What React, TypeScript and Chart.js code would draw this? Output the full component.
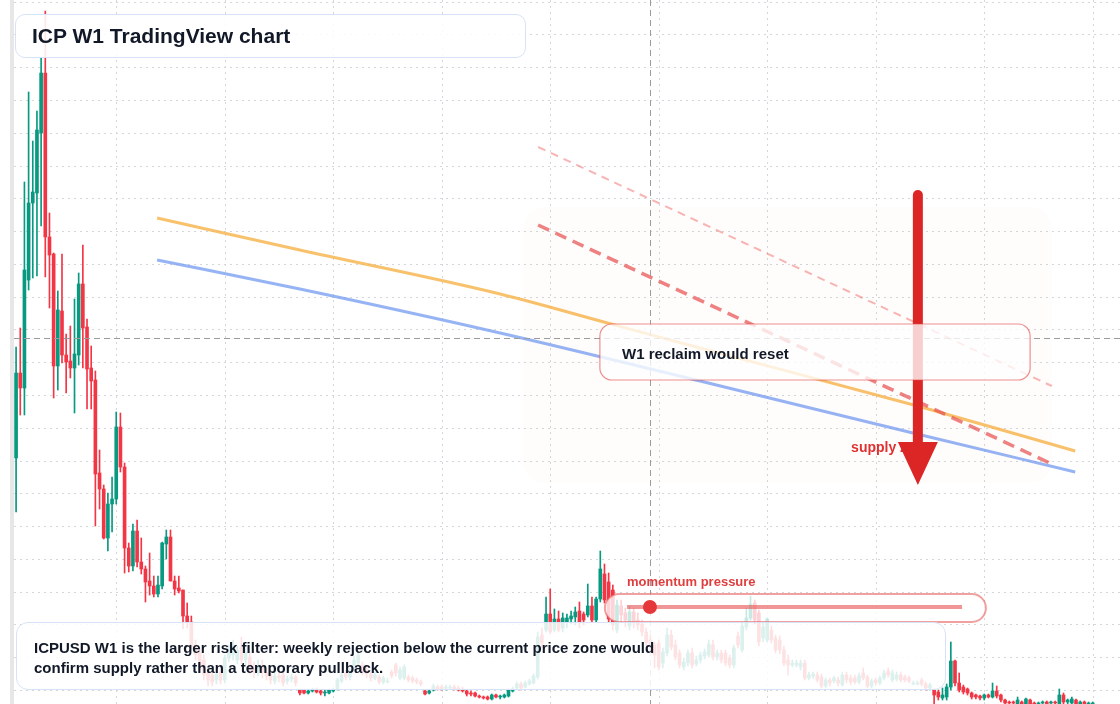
import React, { useEffect, useRef } from "react";
import { Chart, registerables } from "chart.js";

Chart.register(...registerables);

// ---------- DATA (weekly candles) ----------
const opens = [
  26.2, 34.7, 33.2, 44.0, 51.7, 52.7, 58.7, 64.7, 48.3, 46.6,
  35.4, 40.9, 36.5, 35.9, 35.2, 36.5, 43.6, 39.3, 35.2, 34.0,
  24.7, 23.1, 18.2, 21.6, 22.1, 29.3, 25.3, 17.2, 15.4, 18.9,
  15.8, 15.1, 13.9, 13.4, 12.6, 13.4, 17.6, 18.3, 13.9, 13.2,
  13.0, 10.4, 9.8, 7.5, 6.7, 6.0, 4.8, 4.5, 4.0, 4.8,
  4.0, 6.2, 6.5, 6.0, 7.3, 6.0, 6.3, 5.2, 4.8, 5.5,
  4.8, 4.6, 3.9, 4.4, 4.5, 3.9, 4.1, 4.3, 3.0, 3.0,
  2.7, 2.9, 3.0, 2.9, 2.7, 2.7, 2.9, 3.1, 3.9, 4.7,
  4.3, 5.2, 5.7, 5.5, 5.0, 4.6, 4.2, 4.3, 3.8, 3.8,
  4.8, 5.5, 4.2, 4.2, 4.3, 4.2, 4.0, 3.8, 2.9, 2.7,
  3.0, 3.3, 3.3, 3.2, 3.2, 3.3, 3.2, 3.1, 2.9, 2.7,
  2.7, 2.4, 2.3, 2.3, 2.1, 2.5, 2.3, 2.3, 2.4, 2.9,
  3.2, 3.6, 3.3, 3.6, 3.7, 4.3, 8.5, 9.0, 10.6, 9.0,
  10.1, 9.2, 9.8, 10.1, 10.3, 10.9, 10.6, 10.5, 11.4, 10.0,
  12.1, 14.6, 13.8, 13.0, 9.0, 11.4, 10.7, 9.4, 10.8, 10.0,
  9.6, 8.8, 8.0, 7.5, 7.7, 5.7, 6.7, 8.5, 7.5, 6.7,
  5.3, 5.7, 6.7, 5.6, 6.0, 6.4, 6.5, 7.5, 6.3, 6.7,
  6.7, 6.2, 5.5, 8.4, 7.0, 9.3, 10.2, 11.7, 10.7, 8.2,
  8.0, 9.0, 8.2, 8.0, 7.0, 6.0, 5.5, 5.5, 5.3, 5.7,
  4.2, 4.4, 4.5, 4.3, 3.4, 4.0, 3.9, 4.0, 3.5, 4.5,
  4.2, 4.2, 3.8, 4.7, 4.3, 3.4, 4.0, 3.7, 4.2, 4.9,
  4.0, 4.1, 4.5, 4.3, 4.2, 3.6, 3.6, 4.0, 3.6, 3.2,
  3.0, 2.8, 2.2, 2.3, 3.3, 5.9, 3.7, 3.3, 3.1, 2.7,
  2.5, 2.4, 2.2, 2.5, 2.3, 2.9, 2.5, 2.0, 1.8, 1.8,
  1.6, 1.8, 1.6, 2.0, 1.7, 1.6, 1.7, 1.8, 1.7, 1.8,
  1.6, 2.5, 1.8, 1.7, 2.0, 1.6, 1.8, 1.6, 1.6,
];
const closes = [
  34.7, 33.2, 45.0, 51.7, 52.8, 59.0, 64.7, 48.3, 46.5, 35.4,
  41.0, 36.5, 35.8, 35.2, 36.6, 43.6, 39.2, 35.1, 33.9, 24.6,
  23.1, 18.2, 21.6, 22.1, 29.3, 25.3, 17.2, 15.4, 18.9, 15.8,
  15.1, 13.8, 13.4, 12.6, 13.5, 17.7, 18.3, 13.9, 13.1, 12.9,
  10.4, 9.8, 7.3, 6.5, 5.3, 4.5, 4.0, 3.8, 4.6, 4.0,
  6.2, 7.0, 7.5, 7.0, 6.0, 6.8, 5.0, 4.8, 5.5, 4.8,
  4.4, 4.0, 4.4, 4.2, 3.7, 4.1, 4.3, 3.7, 2.7, 2.7,
  2.9, 3.0, 2.8, 2.7, 2.8, 3.0, 3.0, 4.0, 4.5, 4.3,
  4.8, 6.0, 6.5, 4.8, 4.6, 4.2, 4.5, 3.8, 4.2, 3.9,
  4.4, 4.7, 5.0, 5.3, 4.0, 3.9, 3.8, 3.6, 2.6, 2.9,
  3.4, 3.1, 3.1, 3.3, 3.3, 3.1, 3.0, 2.9, 2.6, 2.6,
  2.4, 2.3, 2.2, 2.1, 2.5, 2.3, 2.4, 2.5, 3.0, 3.1,
  3.6, 3.2, 3.7, 3.9, 4.4, 8.3, 7.7, 10.6, 8.8, 10.1,
  9.0, 10.2, 10.2, 10.4, 10.8, 9.8, 10.0, 11.4, 10.0, 12.1,
  15.1, 12.0, 10.1, 9.5, 11.5, 10.5, 10.0, 10.8, 9.8, 9.5,
  8.8, 7.7, 7.5, 6.5, 5.3, 6.8, 8.5, 7.3, 6.3, 5.5,
  5.8, 6.7, 5.5, 6.0, 6.5, 6.8, 7.6, 6.3, 6.7, 6.0,
  5.7, 5.5, 7.2, 7.5, 9.4, 10.2, 11.6, 10.0, 7.8, 9.3,
  10.1, 8.0, 7.0, 7.0, 5.7, 5.5, 5.7, 5.7, 5.7, 4.2,
  4.5, 4.6, 4.0, 3.4, 4.0, 3.7, 4.2, 3.7, 4.5, 4.0,
  3.8, 3.8, 4.4, 4.2, 3.4, 3.9, 3.7, 4.2, 4.7, 4.5,
  4.7, 4.5, 4.0, 4.0, 3.9, 3.7, 3.7, 3.6, 3.2, 3.5,
  2.5, 2.3, 2.5, 3.3, 5.9, 3.7, 3.0, 2.8, 2.7, 2.3,
  2.3, 2.2, 2.5, 2.3, 2.9, 2.4, 2.0, 1.7, 1.7, 1.7,
  2.0, 1.6, 2.1, 1.6, 1.6, 1.7, 1.8, 1.6, 1.8, 1.7,
  2.5, 1.8, 2.0, 2.1, 1.6, 1.8, 1.6, 1.7, 1.7,
];
const highs = [
  37.3, 39.2, 53.8, 62.8, 57.9, 60.9, 66.2, 70.9, 50.7, 46.7,
  42.9, 46.6, 38.6, 39.4, 42.1, 44.7, 47.5, 40.1, 37.4, 34.9,
  27.0, 23.5, 22.7, 24.3, 30.8, 30.7, 25.7, 17.7, 19.6, 20.0,
  18.2, 15.4, 16.7, 14.4, 14.4, 17.8, 19.0, 19.0, 14.4, 14.4,
  13.0, 11.7, 10.4, 8.0, 7.2, 6.5, 5.2, 5.0, 5.2, 5.4,
  6.5, 7.5, 8.0, 7.4, 8.3, 7.3, 6.8, 5.8, 6.0, 6.0,
  5.2, 5.0, 4.8, 4.7, 4.8, 4.4, 4.6, 4.5, 3.1, 3.1,
  3.1, 3.2, 3.2, 3.0, 3.0, 3.1, 3.2, 4.2, 4.8, 5.0,
  5.2, 6.4, 6.8, 5.8, 5.4, 4.8, 4.8, 4.5, 4.4, 4.2,
  5.0, 5.7, 5.3, 5.5, 4.5, 4.4, 4.2, 4.0, 3.0, 3.0,
  3.6, 3.5, 3.5, 3.5, 3.5, 3.5, 3.4, 3.3, 3.0, 2.9,
  2.8, 2.5, 2.4, 2.4, 2.6, 2.6, 2.5, 2.6, 3.1, 3.3,
  3.8, 3.8, 3.9, 4.1, 4.6, 8.8, 9.2, 12.3, 13.1, 11.1,
  10.9, 10.7, 10.6, 10.9, 11.3, 11.8, 10.8, 13.6, 12.3, 12.3,
  16.9, 15.6, 14.7, 13.5, 12.0, 12.0, 11.2, 11.4, 11.2, 10.7,
  10.0, 9.2, 8.4, 7.8, 8.0, 7.2, 9.2, 9.0, 8.0, 7.0,
  6.2, 7.0, 7.2, 6.4, 6.8, 7.1, 8.0, 8.0, 7.0, 7.0,
  7.0, 6.5, 7.5, 8.8, 9.8, 11.2, 12.4, 12.0, 11.0, 9.8,
  10.2, 9.4, 8.5, 8.4, 7.4, 6.5, 6.0, 6.0, 6.0, 6.0,
  4.8, 4.8, 4.8, 4.6, 4.2, 4.2, 4.4, 4.3, 4.8, 4.8,
  4.5, 4.5, 4.7, 5.2, 4.5, 4.1, 4.2, 4.4, 5.0, 5.2,
  5.0, 4.8, 4.8, 4.5, 4.4, 3.9, 3.9, 4.2, 3.8, 3.7,
  3.1, 3.0, 3.2, 3.6, 7.8, 6.0, 4.7, 3.5, 3.2, 2.8,
  2.6, 2.5, 2.6, 2.6, 3.7, 3.4, 2.6, 2.1, 1.9, 1.9,
  2.3, 1.9, 2.2, 2.1, 1.8, 1.8, 1.9, 1.9, 1.9, 1.9,
  3.1, 2.7, 2.1, 2.3, 2.1, 1.9, 1.9, 1.8, 1.8,
];
const lows = [
  20.8, 30.5, 30.5, 43.0, 44.2, 44.4, 49.4, 44.3, 41.2, 32.2,
  33.0, 35.7, 32.7, 34.2, 30.7, 35.5, 35.2, 31.1, 31.1, 19.4,
  21.1, 18.1, 16.9, 18.8, 21.6, 24.8, 14.7, 14.8, 14.9, 15.3,
  14.6, 11.8, 12.5, 12.3, 12.3, 13.1, 16.1, 13.9, 12.5, 12.7,
  9.1, 9.2, 7.0, 6.0, 4.8, 4.0, 3.4, 3.4, 3.6, 3.6,
  3.7, 5.8, 6.0, 5.6, 5.6, 5.5, 4.6, 4.2, 4.4, 4.2,
  4.0, 3.6, 3.6, 3.8, 3.4, 3.6, 3.8, 3.4, 2.5, 2.6,
  2.6, 2.8, 2.7, 2.5, 2.4, 2.6, 2.8, 3.0, 3.7, 4.0,
  4.0, 5.0, 5.4, 4.5, 4.2, 3.9, 4.0, 3.6, 3.6, 3.7,
  4.2, 4.4, 4.0, 4.0, 3.8, 3.7, 3.6, 3.4, 2.5, 2.6,
  2.9, 3.0, 3.0, 3.0, 3.1, 3.0, 2.9, 2.8, 2.4, 2.4,
  2.3, 2.2, 2.1, 2.0, 2.0, 2.2, 2.1, 2.2, 2.3, 2.8,
  3.1, 3.0, 3.2, 3.5, 3.6, 4.1, 7.2, 8.8, 8.6, 8.8,
  8.8, 8.8, 9.2, 9.6, 9.5, 9.2, 9.5, 10.3, 9.8, 9.8,
  11.8, 11.7, 9.8, 9.0, 8.7, 9.8, 9.3, 9.0, 9.2, 9.0,
  8.4, 7.4, 7.0, 5.2, 5.0, 5.2, 6.4, 7.0, 6.0, 5.2,
  5.0, 5.4, 5.2, 5.4, 5.7, 6.1, 6.3, 6.0, 6.0, 5.7,
  5.4, 5.2, 5.2, 7.2, 6.8, 9.0, 10.0, 9.6, 7.4, 7.8,
  7.8, 7.7, 6.7, 6.6, 5.4, 4.5, 5.3, 5.3, 5.0, 4.0,
  4.0, 4.1, 3.8, 3.2, 3.2, 3.4, 3.7, 3.4, 3.4, 3.7,
  3.5, 3.6, 3.6, 4.0, 3.2, 3.2, 3.5, 3.5, 4.0, 4.3,
  3.8, 3.9, 3.8, 3.8, 3.7, 3.5, 3.5, 3.4, 3.0, 3.0,
  1.4, 2.0, 2.0, 2.0, 3.0, 3.4, 2.8, 2.6, 2.5, 2.1,
  2.1, 2.0, 2.0, 2.2, 2.2, 2.2, 1.8, 1.5, 1.5, 1.5,
  1.5, 1.4, 1.5, 1.4, 1.4, 1.5, 1.6, 1.5, 1.6, 1.6,
  1.4, 1.6, 1.6, 1.5, 1.4, 1.5, 1.4, 1.5, 1.5,
];

// Moving-average style curves (week index, price)
const emaFastIdx = [33.8, 68.0, 116.0, 142.6, 163.9, 216.9, 253.8];
const emaFastVals = [50.2, 47.0, 42.6, 39.6, 37.2, 31.3, 26.9];
const emaSlowIdx = [33.8, 68.0, 116.0, 163.9, 216.9, 253.8];
const emaSlowVals = [46.0, 43.1, 38.7, 33.9, 28.5, 24.8];
// Descending resistance lines
const resistIdx = [125.1, 248.2];
const resistVals = [49.5, 25.6];
const upperIdx = [125.1, 248.2];
const upperVals = [57.3, 33.4];

// Grid (week index / price levels)
const gridIdx = [24, 50, 76, 102, 128, 154, 180, 206, 232, 258];
const gridPrices = [
  3.0, 6.28, 9.56, 12.83, 16.11, 19.39, 22.67, 25.95, 29.22, 32.5, 35.78,
  39.06, 42.34, 45.61, 48.89, 52.17, 55.45, 58.73, 62.0, 65.28, 68.56, 71.84,
];

// Annotation anchors (week index, price)
const crosshair = { idx: 151.9, price: 38.2 };
const zone = { x0: 121.5, x1: 248.2, top: 51.3, bottom: 23.7 };
const arrowAnchor = { idx: 216.1, top: 52.5, headBase: 27.8, tip: 23.5 };
const supplyLabel = { idx: 200.1, price: 27.2, text: "supply zone" };
const reclaimBox = { x0: 139.9, x1: 243.0, top: 39.6, bottom: 34.0, textIdx: 145.2, textPrice: 36.5, text: "W1 reclaim would reset" };
const momentumPill = { x0: 141.1, x1: 232.4, top: 12.6, bottom: 9.8, lineFrom: 146.4, lineTo: 226.7, linePrice: 11.3, dotIdx: 151.9, labelIdx: 146.4, labelPrice: 13.8, text: "momentum pressure" };

const titleText = "ICP W1 TradingView chart";
const noteLines = [
  "ICPUSD W1 is the larger risk filter: weekly rejection below the current price zone would",
  "confirm supply rather than a temporary pullback.",
];

const UP = "#089981";
const DOWN = "#f23645";
const FONT = '"Liberation Sans", Arial, Helvetica, sans-serif';

const overlayPlugin = {
  id: "overlayPlugin",
  beforeDatasetsDraw(chart: any) {
    const { ctx, chartArea, scales } = chart;
    const x = scales.x;
    const y = scales.y;
    ctx.save();
    // left panel edge
    ctx.fillStyle = "#e7e7e7";
    ctx.fillRect(chartArea.left - 4, 0, 4, chart.height);
    // dotted grid
    ctx.strokeStyle = "#d3d6da";
    ctx.lineWidth = 1;
    ctx.setLineDash([2, 4]);
    for (const p of gridPrices) {
      const py = Math.round(y.getPixelForValue(p)) + 0.5;
      ctx.beginPath();
      ctx.moveTo(chartArea.left, py);
      ctx.lineTo(chartArea.right, py);
      ctx.stroke();
    }
    for (const i of gridIdx) {
      const px = Math.round(x.getPixelForValue(i)) + 0.5;
      ctx.beginPath();
      ctx.moveTo(px, chartArea.top);
      ctx.lineTo(px, chartArea.bottom);
      ctx.stroke();
    }
    ctx.setLineDash([]);
    // faint zone
    const zx0 = x.getPixelForValue(zone.x0);
    const zx1 = x.getPixelForValue(zone.x1);
    const zy0 = y.getPixelForValue(zone.top);
    const zy1 = y.getPixelForValue(zone.bottom);
    ctx.fillStyle = "rgba(251,146,60,0.018)";
    ctx.beginPath();
    ctx.roundRect(zx0, zy0, zx1 - zx0, zy1 - zy0, 22);
    ctx.fill();
    ctx.restore();
  },
  afterDatasetsDraw(chart: any) {
    const { ctx, chartArea, scales } = chart;
    const x = scales.x;
    const y = scales.y;
    ctx.save();
    // crosshair
    ctx.strokeStyle = "#9b9b9b";
    ctx.lineWidth = 1;
    ctx.setLineDash([6, 4]);
    const cx = Math.round(x.getPixelForValue(crosshair.idx)) + 0.5;
    const cy = Math.round(y.getPixelForValue(crosshair.price)) + 0.5;
    ctx.beginPath();
    ctx.moveTo(cx, chartArea.top);
    ctx.lineTo(cx, chartArea.bottom);
    ctx.stroke();
    ctx.beginPath();
    ctx.moveTo(chartArea.left, cy);
    ctx.lineTo(chartArea.right, cy);
    ctx.stroke();
    ctx.setLineDash([]);

    // supply label (under the arrow)
    ctx.font = `bold 14px ${FONT}`;
    ctx.fillStyle = "#e03131";
    ctx.textBaseline = "middle";
    ctx.textAlign = "left";
    ctx.fillText(supplyLabel.text, x.getPixelForValue(supplyLabel.idx), y.getPixelForValue(supplyLabel.price));

    // arrow
    const ax = x.getPixelForValue(arrowAnchor.idx);
    const aTop = y.getPixelForValue(arrowAnchor.top);
    const aBase = y.getPixelForValue(arrowAnchor.headBase);
    const aTip = y.getPixelForValue(arrowAnchor.tip);
    ctx.strokeStyle = "#dc2626";
    ctx.fillStyle = "#dc2626";
    ctx.lineWidth = 10;
    ctx.lineCap = "round";
    ctx.beginPath();
    ctx.moveTo(ax, aTop);
    ctx.lineTo(ax, aBase + 4);
    ctx.stroke();
    ctx.lineCap = "butt";
    ctx.beginPath();
    ctx.moveTo(ax - 20, aBase);
    ctx.lineTo(ax + 20, aBase);
    ctx.lineTo(ax, aTip);
    ctx.closePath();
    ctx.fill();

    // reclaim box
    const bx0 = x.getPixelForValue(reclaimBox.x0);
    const bx1 = x.getPixelForValue(reclaimBox.x1);
    const by0 = y.getPixelForValue(reclaimBox.top);
    const by1 = y.getPixelForValue(reclaimBox.bottom);
    ctx.beginPath();
    ctx.roundRect(bx0, by0, bx1 - bx0, by1 - by0, 12);
    ctx.fillStyle = "rgba(255,255,255,0.78)";
    ctx.fill();
    ctx.strokeStyle = "rgba(226,70,70,0.6)";
    ctx.lineWidth = 1.2;
    ctx.stroke();
    ctx.font = `bold 15px ${FONT}`;
    ctx.fillStyle = "#111827";
    ctx.fillText(reclaimBox.text, x.getPixelForValue(reclaimBox.textIdx), y.getPixelForValue(reclaimBox.textPrice));

    // momentum pill
    const px0 = x.getPixelForValue(momentumPill.x0);
    const px1 = x.getPixelForValue(momentumPill.x1);
    const py0 = y.getPixelForValue(momentumPill.top);
    const py1 = y.getPixelForValue(momentumPill.bottom);
    const ph = py1 - py0;
    ctx.beginPath();
    ctx.roundRect(px0, py0, px1 - px0, ph, ph / 2);
    ctx.fillStyle = "rgba(255,255,255,0.78)";
    ctx.fill();
    ctx.strokeStyle = "rgba(230,80,80,0.55)";
    ctx.lineWidth = 2;
    ctx.stroke();
    const ly = y.getPixelForValue(momentumPill.linePrice);
    ctx.strokeStyle = "rgba(232,80,80,0.6)";
    ctx.lineWidth = 4;
    ctx.beginPath();
    ctx.moveTo(x.getPixelForValue(momentumPill.lineFrom), ly);
    ctx.lineTo(x.getPixelForValue(momentumPill.lineTo), ly);
    ctx.stroke();
    ctx.fillStyle = "#e5383b";
    ctx.beginPath();
    ctx.arc(x.getPixelForValue(momentumPill.dotIdx), ly, 7, 0, Math.PI * 2);
    ctx.fill();
    ctx.font = `bold 13px ${FONT}`;
    ctx.fillStyle = "#e03e3e";
    ctx.fillText(momentumPill.text, x.getPixelForValue(momentumPill.labelIdx), y.getPixelForValue(momentumPill.labelPrice));
    ctx.restore();
  },
};

export default function App() {
  const canvasRef = useRef<HTMLCanvasElement | null>(null);

  useEffect(() => {
    const n = Math.min(opens.length, closes.length, highs.length, lows.length);
    const idx = Array.from({ length: n }, (_, i) => i);
    const colors = idx.map((i) => (closes[i] >= opens[i] ? UP : DOWN));
    const wickData = idx.map((i) => ({
      x: i,
      y: [Math.min(lows[i], opens[i], closes[i]), Math.max(highs[i], opens[i], closes[i])],
    }));
    const bodyData = idx.map((i) => ({
      x: i,
      y: [Math.min(opens[i], closes[i]), Math.max(opens[i], closes[i])],
    }));
    const toPts = (xs: number[], ys: number[]) => xs.map((v, k) => ({ x: v, y: ys[k] }));

    const chart = new Chart(canvasRef.current as HTMLCanvasElement, {
      type: "bar",
      data: {
        datasets: [
          {
            type: "line",
            data: toPts(upperIdx, upperVals),
            borderColor: "rgba(240,120,120,0.55)",
            borderWidth: 2,
            borderDash: [8, 6],
            pointRadius: 0,
            order: 1,
          } as any,
          {
            type: "line",
            data: toPts(resistIdx, resistVals),
            borderColor: "rgba(232,82,82,0.72)",
            borderWidth: 3.5,
            borderDash: [12, 7],
            pointRadius: 0,
            order: 2,
          } as any,
          {
            type: "line",
            data: toPts(emaFastIdx, emaFastVals),
            borderColor: "rgba(246,176,66,0.78)",
            borderWidth: 3,
            pointRadius: 0,
            cubicInterpolationMode: "monotone",
            order: 3,
          } as any,
          {
            type: "line",
            data: toPts(emaSlowIdx, emaSlowVals),
            borderColor: "rgba(110,150,240,0.72)",
            borderWidth: 3,
            pointRadius: 0,
            cubicInterpolationMode: "monotone",
            order: 4,
          } as any,
          {
            type: "bar",
            data: bodyData,
            backgroundColor: colors,
            borderWidth: 0,
            barThickness: 3,
            minBarLength: 1,
            grouped: false,
            order: 5,
          } as any,
          {
            type: "bar",
            data: wickData,
            backgroundColor: colors,
            borderWidth: 0,
            barThickness: 1,
            minBarLength: 1,
            grouped: false,
            order: 6,
          } as any,
        ],
      },
      options: {
        responsive: false,
        animation: false,
        events: [],
        layout: { padding: { left: 14, right: 0, top: 0, bottom: 0 } },
        scales: {
          x: { type: "linear", min: -0.5, max: 264.54, display: false, offset: false },
          y: { type: "linear", min: 1.6, max: 72, display: false },
        },
        plugins: { legend: { display: false }, tooltip: { enabled: false } },
      } as any,
      plugins: [overlayPlugin],
    });
    return () => chart.destroy();
  }, []);

  return (
    <div style={{ position: "fixed", left: 0, top: 0, width: 1120, height: 704, background: "#ffffff", overflow: "hidden" }}>
      <canvas ref={canvasRef} width={1120} height={704} style={{ position: "absolute", left: 0, top: 0, width: 1120, height: 704 }} />
      <div
        style={{
          position: "absolute", left: 15, top: 14, width: 511, height: 44, boxSizing: "border-box",
          border: "1.5px solid #d6e3f6", borderRadius: 10, background: "rgba(255,255,255,0.88)",
          display: "flex", alignItems: "center", paddingLeft: 16,
          font: `bold 21px ${FONT}`, color: "#111827", whiteSpace: "nowrap",
        }}
      >
        {titleText}
      </div>
      <div
        style={{
          position: "absolute", left: 16, top: 622, width: 930, height: 68, boxSizing: "border-box",
          border: "1.5px solid #d6e3f6", borderRadius: 12, background: "rgba(255,255,255,0.86)",
          display: "flex", flexDirection: "column", justifyContent: "center", paddingLeft: 17, paddingTop: 4,
          font: `bold 15px ${FONT}`, lineHeight: "20px", color: "#111827", whiteSpace: "nowrap",
        }}
      >
        {noteLines.map((l, k) => (
          <span key={k} style={{ display: "block" }}>{l}</span>
        ))}
      </div>
    </div>
  );
}
